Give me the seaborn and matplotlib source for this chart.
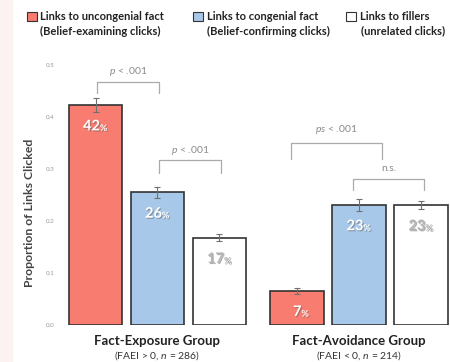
import pandas as pd
import numpy as np
import matplotlib.pyplot as plt
import matplotlib.patheffects as pe
from matplotlib.patches import Rectangle
import seaborn as sns

# -----------------------------
# Data
# -----------------------------
groups = ["Fact-Exposure Group", "Fact-Avoidance Group"]
group_notes = ["(FAEI > 0, $n$ = 286)", "(FAEI < 0, $n$ = 214)"]
link_types = ["uncongenial", "congenial", "fillers"]
exposure_vals = [0.423, 0.255, 0.168]
avoidance_vals = [0.066, 0.231, 0.231]
exposure_err = [0.013, 0.011, 0.007]
avoidance_err = [0.006, 0.011, 0.007]
exposure_pct = ["42", "26", "17"]
avoidance_pct = ["7", "23", "23"]
legend_top = ["Links to uncongenial fact", "Links to congenial fact", "Links to fillers"]
legend_bottom = ["(Belief-examining clicks)", "(Belief-confirming clicks)", "(unrelated clicks)"]
yticks = [0.0, 0.1, 0.2, 0.3, 0.4, 0.5]

colors = ["#F97C70", "#A7C8E8", "#FFFFFF"]
pct_colors = ["white", "white", "#B5B5B5"]

df = pd.DataFrame({
    "group": [groups[0]] * 3 + [groups[1]] * 3,
    "link": link_types * 2,
    "value": exposure_vals + avoidance_vals,
    "err": exposure_err + avoidance_err,
    "pct": exposure_pct + avoidance_pct,
})

# -----------------------------
# Style
# -----------------------------
sns.set_style("white")
plt.rcParams["font.family"] = ["Lato", "DejaVu Sans"]
plt.rcParams["mathtext.fontset"] = "custom"
plt.rcParams["mathtext.rm"] = "Lato"
plt.rcParams["mathtext.it"] = "Lato:italic"
plt.rcParams["mathtext.bf"] = "Lato:bold"

fig = plt.figure(figsize=(4.5, 3.62), dpi=100)
fig.patches.append(Rectangle((0, 0), 12 / 450, 1, transform=fig.transFigure,
                             color="#FCF2F2", zorder=0))
ax = fig.add_axes([62 / 450, 37 / 362, 388 / 450, 265 / 362])

sns.barplot(data=df, x="group", y="value", hue="link", order=groups,
            hue_order=link_types, palette=colors, saturation=1, width=0.923, gap=0.13,
            edgecolor="#333333", linewidth=1.2, errorbar=None, legend=False, ax=ax)

ax.set_xlim(-0.474, 1.452)
ax.set_ylim(0, (325 - 60) / 520)
ax.set_yticks(yticks)
ax.set_yticklabels([f"{t:.1f}" for t in yticks], fontsize=4.5, color="#999999")
ax.tick_params(axis="y", length=0, pad=5)
ax.set_xticks([])
ax.set_xlabel("")
ax.set_ylabel("")
sns.despine(ax=ax, left=True, bottom=True)

# bar centres from seaborn's patches, in hue order per group
bars = sorted(ax.patches, key=lambda p: p.get_x())
centers = [b.get_x() + b.get_width() / 2 for b in bars]
order = [(0, 0), (0, 1), (0, 2), (1, 0), (1, 1), (1, 2)]

for (g, h), cx in zip(order, centers):
    row = df[(df.group == groups[g]) & (df.link == link_types[h])].iloc[0]
    ax.errorbar(cx, row.value, yerr=row.err, fmt="none", ecolor="#707070",
                elinewidth=0.8, capsize=2, capthick=0.8, zorder=5)
    shadow = [pe.withSimplePatchShadow(offset=(0.8, -0.8), shadow_rgbFace="#555555", alpha=0.45)]
    y = row.value - 0.041
    ax.text(cx + 0.022, y, row.pct, ha="right", va="center", fontsize=10.5,
            fontweight="bold", color=pct_colors[h], path_effects=shadow, zorder=6)
    ax.text(cx + 0.022, y - 0.004, "%", ha="left", va="center", fontsize=6.5,
            fontweight="bold", color=pct_colors[h], path_effects=shadow, zorder=6)

# significance brackets
br_col = "#AAAAAA"
txt_col = "#8A8A8A"


def bracket(x0, x1, top, leg0, leg1, label, ty):
    ax.plot([x0, x0, x1, x1], [leg0, top, top, leg1], color=br_col, lw=0.9,
            solid_joinstyle="round", clip_on=False)
    ax.text((x0 + x1) / 2, ty, label, ha="center", va="center", fontsize=7.5,
            color=txt_col)


bracket(centers[0] + 0.008, centers[1] + 0.007, 0.467, 0.446, 0.446, "$p$ < .001", 0.487)
bracket(centers[1] + 0.007, centers[2] + 0.007, 0.317, 0.292, 0.292, "$p$ < .001", 0.336)
bracket(centers[3] - 0.028, centers[4] + 0.114, 0.350, 0.319, 0.319, "$ps$ < .001", 0.375)
bracket(centers[4] - 0.03, centers[5] + 0.015, 0.281, 0.260, 0.260, "n.s.", 0.300)

# group labels under the bars
for i, (name, note) in enumerate(zip(groups, group_notes)):
    ax.text(i, -0.031, name, ha="center", va="center", fontsize=9.5, fontweight="bold",
            color="#222222", clip_on=False)
    ax.text(i, -0.058, note, ha="center", va="center", fontsize=7.5,
            color="#333333", clip_on=False)

# y axis title
fig.text(30 / 450, (362 - 213) / 362, "Proportion of Links Clicked", rotation=90,
         ha="center", va="center", fontsize=8.8, fontweight="bold", color="#444444")

# legend drawn as text and swatches
sq_x = [27, 193, 346]
tx_x = [40, 207, 360]
tx2_x = [40, 207, 361]
for i in range(3):
    fig.patches.append(Rectangle((sq_x[i] / 450, (362 - 21) / 362), 10 / 450, 9 / 362,
                                 transform=fig.transFigure, facecolor=colors[i],
                                 edgecolor="#333333", lw=0.8))
    fig.text(tx_x[i] / 450, (362 - 16) / 362, legend_top[i], ha="left", va="center",
             fontsize=8, fontweight="bold", color="#222222")
    fig.text(tx2_x[i] / 450, (362 - 31) / 362, legend_bottom[i], ha="left", va="center",
             fontsize=8, fontweight="bold", color="#222222")

fig.savefig("out.png", dpi=100)
